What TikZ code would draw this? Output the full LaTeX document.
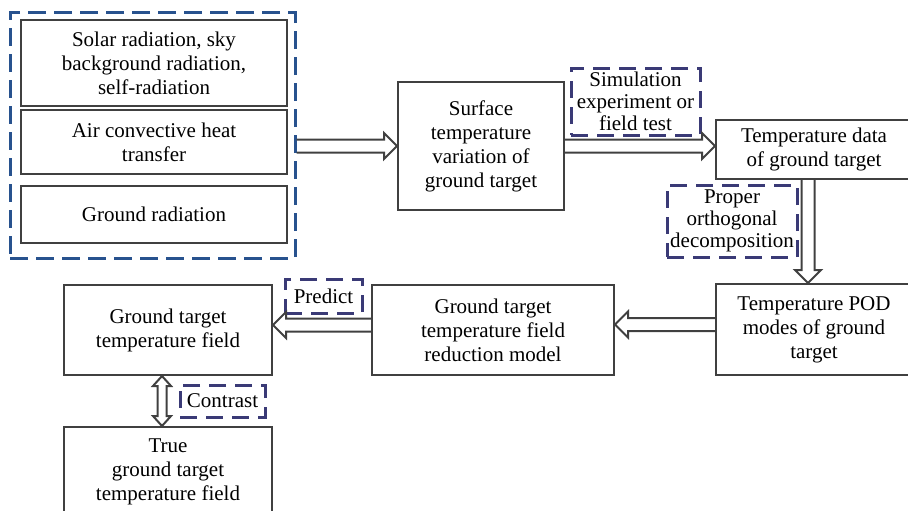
\documentclass[tikz,border=0pt]{standalone}
\usepackage{fontspec}
\setmainfont{Liberation Serif}
\usetikzlibrary{calc}
\definecolor{grpblue}{RGB}{40,82,142}
\definecolor{tagblue}{RGB}{58,58,118}
\tikzset{
    flow/.style={
        box/.append style={align=center,draw=black!75,line width=1pt,rectangle,inner sep=1pt,font=\fontsize{10.5}{12}\selectfont},
        tag/.append style={align=center,draw=tagblue,line width=1.5pt,dash pattern=on 8.5pt off 4.5pt,rectangle,inner sep=0.5pt,font=\fontsize{10.5}{11}\selectfont},
        grp/.append style={draw=grpblue,line width=1.5pt,dash pattern=on 9pt off 4pt,rectangle},
        pipe/.append style={draw=black!75,line width=1pt,line join=miter,to path={
            ($(\tikztostart)!3.25pt!90:(\tikztotarget)$)
            -- ($(\tikztotarget)!6.5pt!(\tikztostart)!3.25pt!-90:(\tikztostart)$)
            -- ($(\tikztotarget)!6.5pt!(\tikztostart)!6.5pt!-90:(\tikztostart)$)
            -- (\tikztotarget)
            -- ($(\tikztotarget)!6.5pt!(\tikztostart)!6.5pt!90:(\tikztostart)$)
            -- ($(\tikztotarget)!6.5pt!(\tikztostart)!3.25pt!90:(\tikztostart)$)
            -- ($(\tikztostart)!3.25pt!-90:(\tikztotarget)$)}},
        twoway/.append style={draw=black!75,line width=1pt,line join=miter,to path={
            (\tikztostart)
            -- ($(\tikztostart)!5pt!(\tikztotarget)!4.5pt!90:(\tikztotarget)$)
            -- ($(\tikztostart)!5pt!(\tikztotarget)!2.25pt!90:(\tikztotarget)$)
            -- ($(\tikztotarget)!5pt!(\tikztostart)!2.25pt!-90:(\tikztostart)$)
            -- ($(\tikztotarget)!5pt!(\tikztostart)!4.5pt!-90:(\tikztostart)$)
            -- (\tikztotarget)
            -- ($(\tikztotarget)!5pt!(\tikztostart)!4.5pt!90:(\tikztostart)$)
            -- ($(\tikztotarget)!5pt!(\tikztostart)!2.25pt!90:(\tikztostart)$)
            -- ($(\tikztostart)!5pt!(\tikztotarget)!2.25pt!-90:(\tikztotarget)$)
            -- ($(\tikztostart)!5pt!(\tikztotarget)!4.5pt!-90:(\tikztotarget)$)
            -- cycle}}
    }
}

\begin{document}
\begin{tikzpicture}[flow,x=0.5pt,y=-0.5pt]
    \useasboundingbox (0,0) rectangle (908,510);
    \clip (0,0) rectangle (908,510);
    \node[grp,minimum width=142.5pt,minimum height=123pt] (env) at (152.5,135) {};
    \node[box,minimum width=133pt,minimum height=43pt] (solar) at (154,63) {Solar radiation, sky\\background radiation,\\self-radiation};
    \node[box,minimum width=133pt,minimum height=32pt] (conv) at (154,142) {Air convective heat\\transfer};
    \node[box,minimum width=133pt,minimum height=28.5pt] (grad) at (154,214.5) {Ground radiation};
    \node[box,minimum width=83pt,minimum height=64pt] (surf) at (481,146) {Surface\\temperature\\variation of\\ground target};
    \node[tag,minimum width=64.5pt,minimum height=33.5pt] (sim) at (635.5,101.5) {Simulation\\experiment or\\field test};
    \node[box,minimum width=98pt,minimum height=29.5pt] (tdata) at (814,149.5) {Temperature data\\of ground target};
    \node[tag,minimum width=65pt,minimum height=36pt] (pdec) at (732,221) {Proper\\orthogonal\\decomposition};
    \node[box,minimum width=98pt,minimum height=45.5pt] (pod) at (814,329.5) {Temperature POD\\modes of ground\\target};
    \node[box,minimum width=121pt,minimum height=45pt] (redm) at (493,330) {Ground target\\temperature field\\reduction model};
    \node[box,minimum width=104pt,minimum height=45pt] (gttf) at (168,330) {Ground target\\temperature field};
    \node[tag,minimum width=38.5pt,minimum height=17pt] (pred) at (323.5,296) {Predict};
    \node[tag,minimum width=42.5pt,minimum height=16pt] (cmp) at (222.5,401) {Contrast};
    \node[box,minimum width=104pt,minimum height=45pt] (truef) at (168,472) {True\\ground target\\temperature field};
    \draw[pipe] (env.east |- surf.west) to (surf.west);
    \draw[pipe] (surf.east) to (surf.east -| tdata.west);
    \draw[pipe] ([xshift=-3pt]tdata.south) to ([xshift=-3pt]pod.north);
    \draw[pipe] ([yshift=2.5pt]pod.west) to ([yshift=2.5pt]pod.west -| redm.east);
    \draw[pipe] ([yshift=2.5pt]redm.west) to ([yshift=2.5pt]redm.west -| gttf.east);
    \draw[twoway] ([xshift=-3pt]gttf.south) to ([xshift=-3pt]truef.north);
\end{tikzpicture}
\end{document}
